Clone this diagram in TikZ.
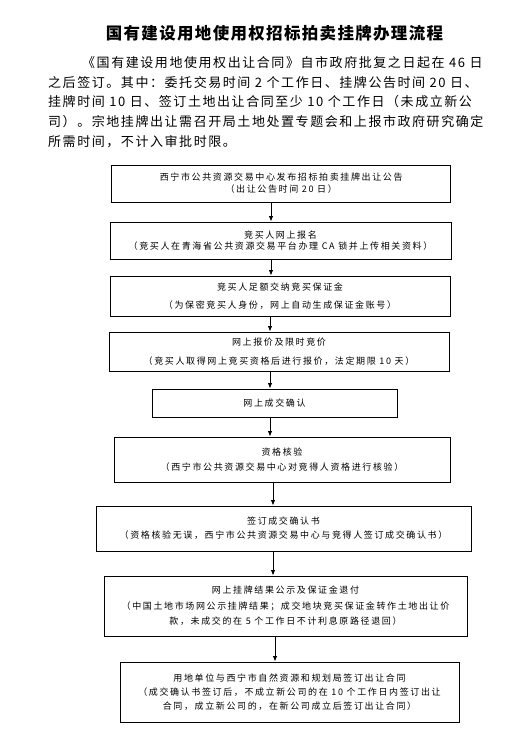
\documentclass[tikz,border=0pt]{standalone}
\usepackage{fontspec}
\setmainfont{Noto Sans CJK SC}
\newfontfamily\bxf[LetterSpace=18]{Noto Sans CJK SC}
\newfontfamily\parf[LetterSpace=12]{Noto Sans CJK SC}
\newfontfamily\ttlf[LetterSpace=8]{Noto Sans CJK SC}
\usetikzlibrary{arrows.meta}
\begin{document}
\begin{tikzpicture}[x=1pt,y=-1pt,
  box/.style={draw=black, line width=0.9pt, rectangle, align=center, inner sep=1pt},
  arr/.style={draw=black, line width=0.9pt, -{Latex[length=5.5pt,width=4.5pt]}},
  parline/.style={anchor=west, inner sep=0pt, font=\parf\fontsize{13}{16}\selectfont},
  bf/.style={font=\bxf\fontsize{9}{#1}\selectfont}
]
\fill[white] (0,0) rectangle (512,729);
\useasboundingbox (0,0) rectangle (512,729);

\node[font=\ttlf\bfseries\fontsize{16.5}{20}\selectfont, inner sep=0pt] (title) at (274.5,33) {国有建设用地使用权招标拍卖挂牌办理流程};

\node[parline] (p1) at (82,63) {《国有建设用地使用权出让合同》自市政府批复之日起在 46 日};
\node[parline] (p2) at (48,83) {之后签订。其中：委托交易时间 2 个工作日、挂牌公告时间 20 日、};
\node[parline] (p3) at (48,102) {挂牌时间 10 日、签订土地出让合同至少 10 个工作日（未成立新公};
\node[parline] (p4) at (48,122) {司）。宗地挂牌出让需召开局土地处置专题会和上报市政府研究确定};
\node[parline] (p5) at (48,142) {所需时间，不计入审批时限。};

\node[box, bf=12, minimum width=339, minimum height=37] (b1) at (281.2,183.5)
  {西宁市公共资源交易中心发布招标拍卖挂牌出让公告\\（出让公告时间 20 日）};
\node[box, bf=11, minimum width=341, minimum height=37] (b2) at (280.5,240.5)
  {竞买人网上报名\\（竞买人在青海省公共资源交易平台办理 CA 锁并上传相关资料）};
\node[box, bf=18.5, minimum width=340, minimum height=40] (b3) at (280,296)
  {竞买人足额交纳竞买保证金\\（为保密竞买人身份，网上自动生成保证金账号）};
\node[box, bf=18.5, minimum width=340, minimum height=39] (b4) at (279,351.5)
  {网上报价及限时竞价\\（竞买人取得网上竞买资格后进行报价，法定期限 10 天）};
\node[box, bf=12, minimum width=245, minimum height=28] (b5) at (274.5,403)
  {网上成交确认};
\node[box, bf=15, minimum width=336, minimum height=45] (b6) at (282,459.5)
  {资格核验\\（西宁市公共资源交易中心对竞得人资格进行核验）};
\node[box, bf=14, minimum width=375, minimum height=45] (b7) at (283.5,528.5)
  {签订成交确认书\\（资格核验无误，西宁市公共资源交易中心与竞得人签订成交确认书）};
\node[box, bf=15.5, minimum width=363, minimum height=60] (b8) at (285.5,606)
  {网上挂牌结果公示及保证金退付\\（中国土地市场网公示挂牌结果；成交地块竞买保证金转作土地出让价\\款，未成交的在 5 个工作日不计利息原路径退回）};
\node[box, bf=14, minimum width=339, minimum height=60] (b9) at (289.5,692)
  {用地单位与西宁市自然资源和规划局签订出让合同\\（成交确认书签订后，不成立新公司的在 10 个工作日内签订出让\\合同，成立新公司的，在新公司成立后签订出让合同）};

\coordinate (x1) at (271,0);
\coordinate (x2) at (270,0);
\coordinate (x3) at (273,0);
\coordinate (x4) at (275,0);
\draw[arr] (b1.south -| x1) -- (b2.north -| x1);
\draw[arr] (b2.south -| x1) -- (b3.north -| x1);
\draw[arr] (b3.south -| x2) -- (b4.north -| x2);
\draw[arr] (b4.south -| x2) -- (b5.north -| x2);
\draw[arr] (b5.south -| x2) -- (b6.north -| x2);
\draw[arr] (b6.south -| x3) -- (b7.north -| x3);
\draw[arr] (b7.south -| x3) -- (b8.north -| x3);
\draw[arr] (b8.south -| x4) -- (b9.north -| x4);
\end{tikzpicture}
\end{document}
